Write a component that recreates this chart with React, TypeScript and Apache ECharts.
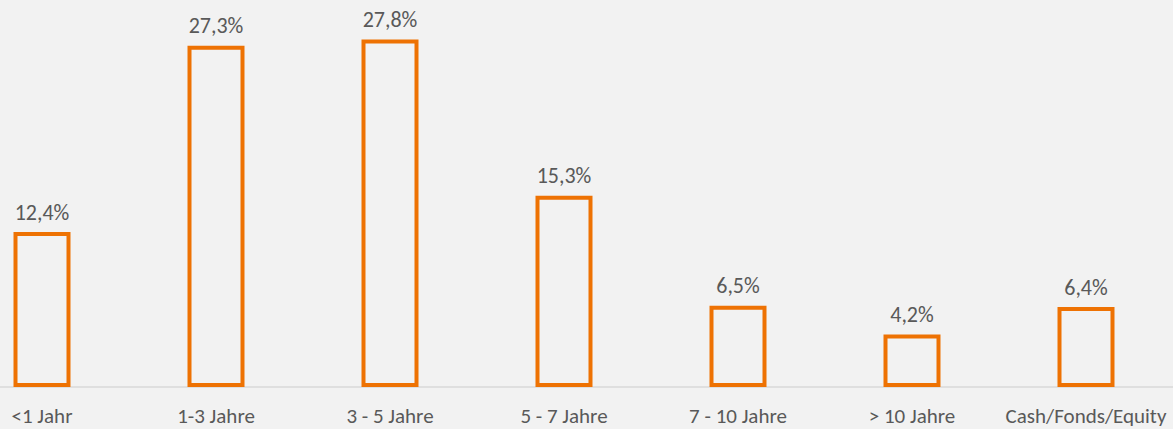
import React, { useEffect, useRef } from "react";
import * as echarts from "echarts";

const categories = ["<1 Jahr", "1-3 Jahre", "3 - 5 Jahre", "5 - 7 Jahre", "7 - 10 Jahre", "> 10 Jahre", "Cash/Fonds/Equity"];
const values = [12.4, 27.3, 27.8, 15.3, 6.5, 4.2, 6.4];

const ORANGE = "#EE7203";
const TEXT = "#595959";
const FONT = "Carlito, Calibri, Lato, 'Open Sans', sans-serif";

export default function App() {
  const ref = useRef<HTMLDivElement>(null);
  useEffect(() => {
    if (!ref.current) return;
    const chart = echarts.init(ref.current, undefined, { renderer: "svg" });
    chart.setOption({
      animation: false,
      backgroundColor: "#F2F2F2",
      grid: { left: 0, right: 0, top: 57, bottom: 42, containLabel: false },
      xAxis: {
        type: "category",
        data: categories,
        axisLine: { show: true, lineStyle: { color: "#D9D9D9", width: 1.5 } },
        axisTick: { show: false },
        axisLabel: { color: TEXT, fontSize: 21, fontFamily: FONT, margin: 18, interval: 0 },
      },
      yAxis: {
        type: "value",
        min: 0,
        max: 30,
        show: false,
        splitLine: { show: false },
      },
      series: [
        {
          type: "bar",
          data: values,
          barWidth: 57,
          itemStyle: { color: "rgba(0,0,0,0)", borderColor: ORANGE, borderWidth: 4 },
          label: {
            show: true,
            position: "top",
            distance: 9,
            color: TEXT,
            fontSize: 22,
            fontFamily: FONT,
            formatter: (p: any) => p.value.toFixed(1).replace(".", ",") + "%",
          },
        },
      ],
    });
    return () => chart.dispose();
  }, []);
  return (
    <div style={{ position: "fixed", left: 0, top: 0, width: 1173, height: 429, overflow: "hidden", background: "#F2F2F2" }}>
      <div
        ref={ref}
        style={{ position: "absolute", left: -45, top: -45, width: 1218, height: 474 }}
      />
    </div>
  );
}
